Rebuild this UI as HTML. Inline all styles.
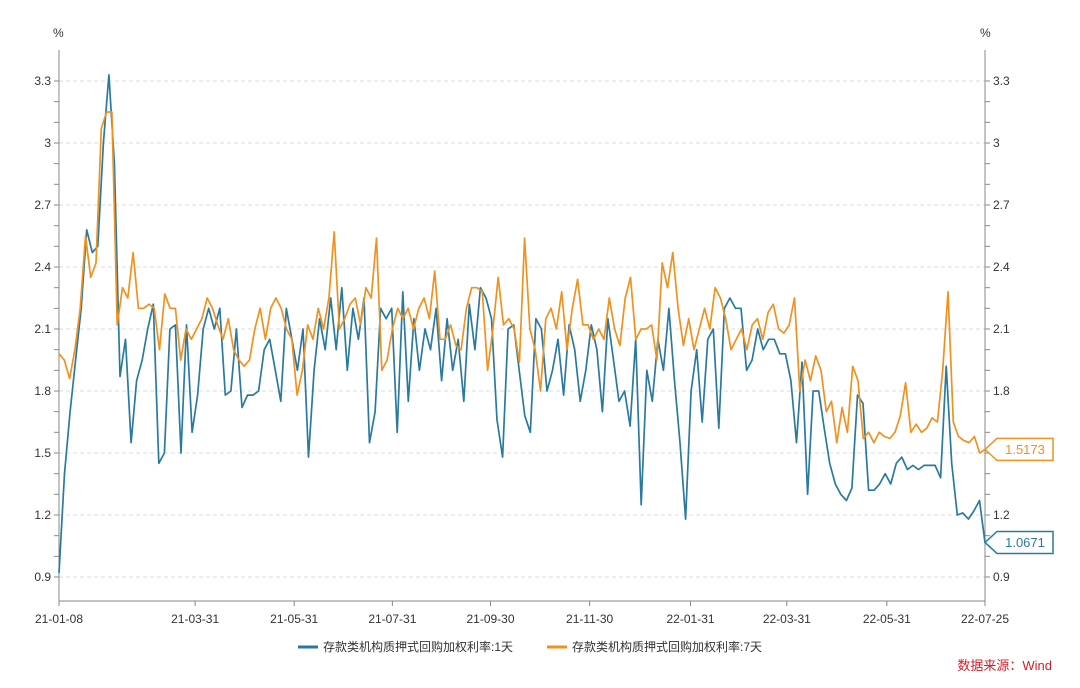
<!DOCTYPE html>
<html><head><meta charset="utf-8"><style>
body{margin:0;background:#fff;width:1080px;height:683px;overflow:hidden;font-family:"Liberation Sans","Noto Sans CJK SC",sans-serif}
svg text{font-family:"Liberation Sans","Noto Sans CJK SC",sans-serif}
</style></head><body>
<svg id="c" width="1080" height="683"></svg>
<script>
const xLabels=["21-01-08","21-03-31","21-05-31","21-07-31","21-09-30","21-11-30","22-01-31","22-03-31","22-05-31","22-07-25"];
const xLabelPos=[0,0.147,0.254,0.360,0.466,0.573,0.682,0.786,0.894,1];
const yTicks=[0.9,1.2,1.5,1.8,2.1,2.4,2.7,3,3.3];
const series1=[0.92,1.4,1.7,1.95,2.2,2.58,2.47,2.5,3.0,3.33,2.9,1.87,2.05,1.55,1.85,1.95,2.1,2.22,1.45,1.5,2.1,2.12,1.5,2.12,1.6,1.78,2.1,2.2,2.1,2.2,1.78,1.8,2.1,1.72,1.78,1.78,1.8,2.0,2.05,1.9,1.75,2.2,2.05,1.9,2.1,1.48,1.9,2.15,2.0,2.25,2.0,2.3,1.9,2.2,2.05,2.25,1.55,1.7,2.2,2.15,2.2,1.6,2.28,1.75,2.15,1.9,2.1,2.0,2.2,1.85,2.15,1.9,2.05,1.75,2.22,2.0,2.3,2.25,2.15,1.66,1.48,2.1,2.12,1.9,1.68,1.6,2.15,2.1,1.8,1.9,2.05,1.78,2.12,2.0,1.75,1.9,2.12,2.0,1.7,2.15,1.95,1.75,1.8,1.63,2.05,1.25,1.9,1.75,2.05,1.9,2.2,1.85,1.55,1.18,1.8,2.0,1.65,2.05,2.1,1.62,2.2,2.25,2.2,2.2,1.9,1.95,2.1,2.0,2.05,2.05,1.98,1.98,1.85,1.55,1.94,1.3,1.8,1.8,1.62,1.45,1.35,1.3,1.27,1.33,1.78,1.74,1.32,1.32,1.35,1.4,1.35,1.45,1.48,1.42,1.44,1.42,1.44,1.44,1.44,1.38,1.92,1.45,1.2,1.21,1.18,1.22,1.27,1.0671];
const series2=[1.98,1.95,1.86,2.0,2.2,2.55,2.35,2.42,3.07,3.15,3.15,2.12,2.3,2.25,2.47,2.2,2.2,2.22,2.2,2.0,2.27,2.2,2.2,1.95,2.1,2.05,2.1,2.15,2.25,2.2,2.12,2.05,2.15,2.0,1.95,1.92,1.95,2.1,2.2,2.05,2.2,2.25,2.2,2.1,2.05,1.78,1.9,2.12,2.05,2.2,2.1,2.25,2.57,2.1,2.15,2.22,2.25,2.12,2.3,2.25,2.54,1.9,1.95,2.1,2.2,2.15,2.2,2.1,2.2,2.25,2.15,2.38,2.05,2.05,2.12,2.02,2.0,2.2,2.3,2.3,2.28,1.9,2.1,2.35,2.12,2.15,2.1,1.94,2.54,2.1,2.0,1.8,2.15,2.2,2.1,2.28,2.0,2.2,2.34,2.12,2.12,2.05,2.1,2.05,2.25,2.1,2.02,2.25,2.35,2.05,2.1,2.1,2.12,1.95,2.42,2.3,2.47,2.2,2.02,2.15,2.0,2.1,2.2,2.1,2.3,2.25,2.15,2.0,2.05,2.1,2.0,2.12,2.15,2.05,2.18,2.22,2.1,2.08,2.12,2.25,1.8,1.95,1.85,1.97,1.9,1.7,1.75,1.55,1.72,1.6,1.92,1.85,1.57,1.6,1.55,1.6,1.58,1.57,1.6,1.68,1.84,1.6,1.64,1.6,1.62,1.67,1.65,1.9,2.28,1.65,1.58,1.56,1.55,1.58,1.5,1.5173];
const L=59,R=985,T=81,B=577;
const y=v=>T+(3.3-v)/(2.4)*(B-T);
const x=f=>L+f*(R-L);
const svg=document.getElementById('c');const NS='http://www.w3.org/2000/svg';
function add(tag,attrs,txt){const e=document.createElementNS(NS,tag);for(const k in attrs)e.setAttribute(k,attrs[k]);if(txt!==undefined)e.textContent=txt;svg.appendChild(e);return e;}
yTicks.forEach(v=>{
 const g=add('line',{x1:L,x2:R,y1:y(v),y2:y(v),stroke:'#ddd','stroke-dasharray':'4,3'});
 
 
 const t1=add('text',{x:L-8,y:y(v)+4,'text-anchor':'end','font-size':12,fill:'#333'},String(v));
 
 
 const t2=add('text',{x:R+8,y:y(v)+4,'font-size':12,fill:'#333'},String(v));
 
 
});
for(let v=0.9;v<=3.35;v+=0.1){[L,R].forEach(ax=>{const m=add('line',{x1:ax===L?L-5:R,x2:ax===L?L:R+5,y1:y(v),y2:y(v),stroke:'#888'});});}
const ax1=add('line',{x1:L,x2:L,y1:50,y2:601,stroke:'#888'});
const ax2=add('line',{x1:R,x2:R,y1:50,y2:601,stroke:'#888'});
const ax3=add('line',{x1:L,x2:R,y1:601,y2:601,stroke:'#888'});
const u1=add('text',{x:53,y:37,'font-size':12,fill:'#333'},'%');
const u2=add('text',{x:980,y:37,'font-size':12,fill:'#333'},'%');
xLabels.forEach((s,i)=>{
 const tk=add('line',{x1:x(xLabelPos[i]),x2:x(xLabelPos[i]),y1:601,y2:606,stroke:'#888'});
 
 
 const t=add('text',{x:x(xLabelPos[i]),y:623,'text-anchor':'middle','font-size':12,fill:'#333'},s);
 
 
});
function line(data,color,name){
 const n=data.length;const d=data.map((v,i)=>(i?'L':'M')+x(i/(n-1)).toFixed(1)+','+y(v).toFixed(1)).join('');
 const p=add('path',{d:d,fill:'none',stroke:color,'stroke-width':1.7,'stroke-linejoin':'round'});
 
 
}
line(series1,'#2A7AA0','series-1day');
line(series2,'#EF9220','series-7day');
function tag(v,color,name){
 const yy=y(v);
 const p=add('path',{d:`M${R},${yy} L${R+12},${yy-11} L${R+68},${yy-11} L${R+68},${yy+11} L${R+12},${yy+11} Z`,fill:'#fff',stroke:color,'stroke-width':1.5});
 
 
 const t=add('text',{x:R+40,y:yy+4.5,'text-anchor':'middle','font-size':13,fill:color},v.toFixed(4));
 
 
}
tag(series2[series2.length-1],'#EF9220','last-value-7day');
tag(series1[series1.length-1],'#2A7AA0','last-value-1day');
const lg1=add('line',{x1:298,x2:318,y1:647,y2:647,stroke:'#2A7AA0','stroke-width':3});
const lt1=add('text',{x:323,y:651,'font-size':12,fill:'#333'},'存款类机构质押式回购加权利率:1天');
const lg2=add('line',{x1:547,x2:567,y1:647,y2:647,stroke:'#EF9220','stroke-width':3});
const lt2=add('text',{x:572,y:651,'font-size':12,fill:'#333'},'存款类机构质押式回购加权利率:7天');
const src=add('text',{x:1052,y:670,'text-anchor':'end','font-size':13,fill:'#D0202A'},'数据来源：Wind');
</script>
</body></html>
